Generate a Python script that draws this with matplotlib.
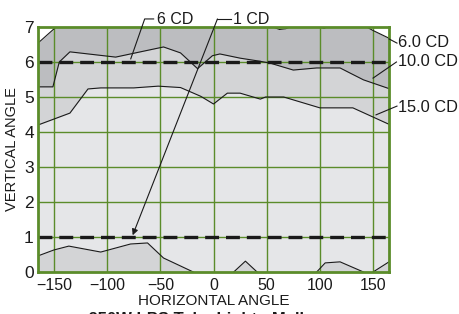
import matplotlib
matplotlib.use("Agg")
import matplotlib.pyplot as plt

plt.rcParams['font.family'] = ['Liberation Sans', 'DejaVu Sans']
plt.rcParams['lines.scale_dashes'] = False

# ---- data ----
x_tick_vals = [-150, -100, -50, 0, 50, 100, 150]
y_tick_vals = [0, 1, 2, 3, 4, 5, 6, 7]

# 6.0 CD contour (white above)
c6_x = [-165, -148, 56, 62, 68, 72, 100, 104, 107, 144, 150, 165]
c6_y = [6.54, 7.0, 7.0, 6.93, 6.95, 7.0, 7.0, 6.96, 7.0, 7.0, 6.9, 6.68]

# 10.0 CD contour
c10_x = [-165, -151, -145, -135, -92, -47, -31, -15, -1, 6, 25, 44, 53, 75, 97, 119, 128, 141, 165]
c10_y = [5.29, 5.29, 6.0, 6.29, 6.14, 6.43, 6.26, 5.81, 6.18, 6.23, 6.11, 6.02, 5.97, 5.77, 5.83, 5.83, 5.69, 5.49, 5.24]

# 15.0 CD contour
c15_x = [-165, -135, -118, -106, -75, -52, -31, -12, 0, 13, 25, 44, 49, 66, 100, 131, 165]
c15_y = [4.2, 4.54, 5.23, 5.26, 5.26, 5.31, 5.27, 5.02, 4.8, 5.11, 5.11, 4.94, 5.0, 5.0, 4.69, 4.69, 4.22]

# 1 CD region near the horizon
c1a_x = [-165, -150, -136, -106, -78, -62, -47, -19]
c1a_y = [0.46, 0.63, 0.74, 0.57, 0.80, 0.83, 0.40, 0.0]
c1b_x = [19, 30, 41]
c1b_y = [0.0, 0.31, 0.0]
c1c_x = [97, 105, 119, 141]
c1c_y = [0.0, 0.26, 0.29, 0.0]
c1d_x = [150, 165]
c1d_y = [0.0, 0.29]

ref_levels = [6, 1]

c_dark = '#bcbdc0'
c_mid = '#d3d4d6'
c_light = '#e5e6e8'
green = '#5b8c2a'
ink = '#1a1a1a'

fig = plt.figure(figsize=(4.59, 3.14), dpi=100)
ax = fig.add_axes([38/459, 42/314, 351/459, 245/314])
ax.set_facecolor(c_light)
ax.set_xlim(-165, 165)
ax.set_ylim(0, 7)

ax.fill_between(c15_x, c15_y, 7.5, color=c_mid, lw=0, zorder=1)
ax.fill_between(c10_x, c10_y, 7.5, color=c_dark, lw=0, zorder=1.1)
ax.fill_between(c6_x, c6_y, 7.5, color='white', lw=0, zorder=1.2)
for xs, ys in [(c1a_x, c1a_y), (c1b_x, c1b_y), (c1c_x, c1c_y), (c1d_x, c1d_y)]:
    ax.fill_between(xs, 0, ys, color=c_mid, lw=0, zorder=1.3)

for v in x_tick_vals:
    ax.axvline(v, color=green, lw=1.0, zorder=2)
for v in y_tick_vals[1:-1]:
    ax.axhline(v, color=green, lw=1.0, zorder=2)

for xs, ys in [(c6_x, c6_y), (c10_x, c10_y), (c15_x, c15_y),
               (c1a_x, c1a_y), (c1b_x, c1b_y), (c1c_x, c1c_y), (c1d_x, c1d_y)]:
    ax.plot(xs, ys, color=ink, lw=0.8, zorder=3)

for lv in ref_levels:
    ax.axhline(lv, color=ink, lw=2.4, linestyle=(0, (10, 5)), zorder=4)

for s in ax.spines.values():
    s.set_color(green)
    s.set_linewidth(2.0)
    s.set_zorder(5)

ax.set_xticks(x_tick_vals)
ax.set_yticks(y_tick_vals)
ax.tick_params(length=0, colors=ink)
ax.tick_params(axis='x', labelsize=11.5, pad=4)
ax.tick_params(axis='y', labelsize=12.5, pad=3)
ax.set_xlabel('HORIZONTAL ANGLE', fontsize=11, labelpad=1, color=ink)
ax.set_ylabel('VERTICAL ANGLE', fontsize=10.5, labelpad=4, color=ink)

# annotations
kw = dict(color=ink, lw=0.8, clip_on=False, zorder=6)
fs = 11.5
fs_r = 11.8
# 6 CD
ax.plot([-77.8, -64.7, -56.3], [6.09, 7.23, 7.23], **kw)
ax.text(-53, 7.22, '6 CD', fontsize=fs, va='center', ha='left', clip_on=False, color=ink)
# 1 CD
ax.plot([16, 3.7], [7.23, 7.23], **kw)
ax.annotate('', xy=(-76, 1.05), xytext=(3.7, 7.23),
            arrowprops=dict(arrowstyle='-|>', color=ink, lw=0.8,
                            mutation_scale=9, shrinkA=0, shrinkB=0),
            annotation_clip=False, zorder=6)
ax.text(18, 7.22, '1 CD', fontsize=fs, va='center', ha='left', clip_on=False, color=ink)
# right labels
ax.plot([165, 172.5], [6.66, 6.54], **kw)
ax.text(173.5, 6.55, '6.0 CD', fontsize=fs_r, va='center', ha='left', clip_on=False, color=ink)
ax.plot([150, 172], [5.54, 6.0], **kw)
ax.text(173, 6.0, '10.0 CD', fontsize=fs_r, va='center', ha='left', clip_on=False, color=ink)
ax.plot([152.8, 172.5], [4.49, 4.74], **kw)
ax.text(173.5, 4.69, '15.0 CD', fontsize=fs_r, va='center', ha='left', clip_on=False, color=ink)

# partially visible caption (cut by the figure edge, as in the reference)
fig.text(70/459, -10/314, 'a. 250W LPS Tube Light - Mall', fontsize=12,
         fontweight='bold', ha='left', va='baseline', color=ink)

fig.savefig('out.png', dpi=100)
